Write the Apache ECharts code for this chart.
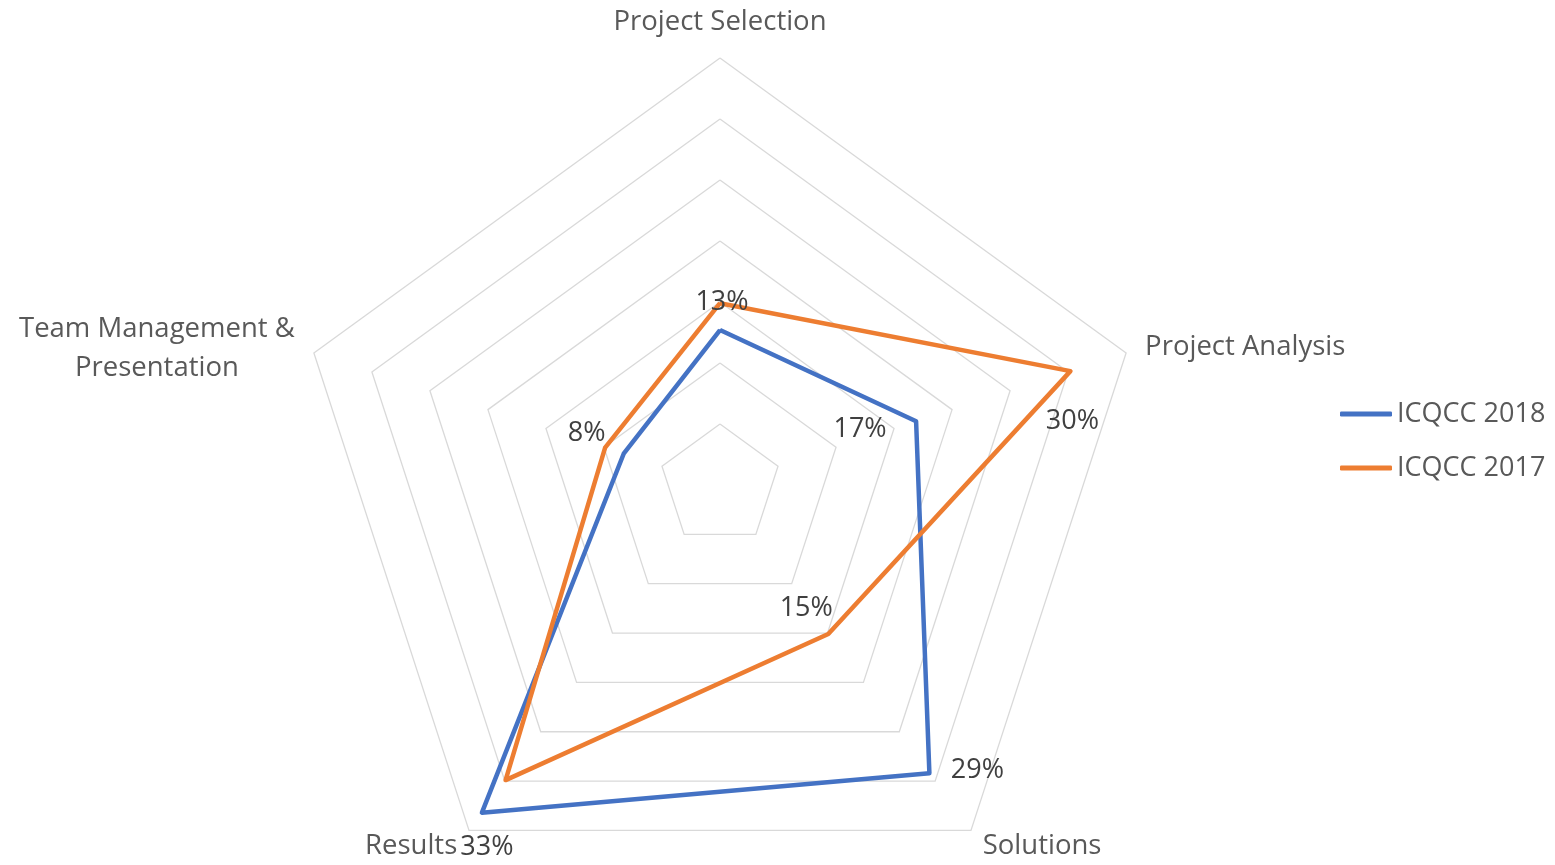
<!DOCTYPE html>
<html><head><meta charset="utf-8">
<script src="https://cdn.jsdelivr.net/npm/echarts@6/dist/echarts.min.js"></script>
<style>html,body{margin:0;padding:0;background:#fff}#c{width:1555px;height:865px}</style>
</head><body><div id="c"></div>
<script>
// ---- data (clockwise from top) ----
const indicators = ['Project Selection', 'Project Analysis', 'Solutions', 'Results', 'Team Management & Presentation'];
const seriesNames = ['ICQCC 2018', 'ICQCC 2017'];
const icqcc2018 = [12.7, 16.9, 29.2, 33.2, 8.3];
const icqcc2017 = [14.9, 30.2, 15.1, 29.9, 9.9];
const axisMax = 35;
const ringCount = 7;
const labelled2018 = [true, true, true, true, true];
const labelled2017 = [false, true, true, false, false];

// ---- styles ----
const FONT = '"Open Sans", "Noto Sans", sans-serif';
const CENTER = [720, 485];
const RADIUS = 427;
const colors = ['#4472C4', '#ED7D31'];
// label offsets (px) relative to the point, per series & indicator
const labelOffsets = [
  [[2, -28], [-56, 8], [48, -3], [5, 35], [-37, -20]],
  [[0, 0], [2, 50], [-22, -26], [0, 0], [0, 0]]
];
const labelled = [labelled2018, labelled2017];

// ECharts lays radar axes out counter-clockwise; reorder so the axes run clockwise
const order = [0].concat(indicators.map((_, i) => i).slice(1).reverse());
const reorder = arr => order.map(i => arr[i]);

const chart = echarts.init(document.getElementById('c'), null, {renderer: 'canvas'});

// natural (clockwise) indicator index of a point from its on-screen position
function dimIndexFromRect(r) {
  const x = r.x + r.width / 2 - CENTER[0];
  const y = r.y + r.height / 2 - CENTER[1];
  let a = Math.atan2(x, -y) * 180 / Math.PI;
  if (a < 0) a += 360;
  return Math.round(a / (360 / indicators.length)) % indicators.length;
}

const option = {
  backgroundColor: '#fff',
  color: colors,
  legend: {
    orient: 'vertical',
    left: 1340,
    top: 399,
    padding: 0,
    icon: 'roundRect',
    itemWidth: 52,
    itemHeight: 5,
    itemGap: 24,
    textStyle: {color: '#595959', fontSize: 27, fontFamily: FONT, lineHeight: 30},
    data: seriesNames
  },
  radar: {
    center: CENTER,
    radius: RADIUS,
    startAngle: 90,
    shape: 'polygon',
    splitNumber: ringCount,
    axisNameGap: 20,
    indicator: reorder(indicators).map(n => ({name: n, max: axisMax, min: 0})),
    axisName: {
      color: '#595959',
      fontSize: 27.5,
      fontFamily: FONT,
      formatter: function (name) {
        if (name === indicators[0]) return '{top|' + name + '}';
        if (name === indicators[4]) return '{c|Team Management &}\n{c|Presentation}';
        return name;
      },
      rich: {
        top: {fontSize: 27.5, fontFamily: FONT, color: '#595959', padding: [0, 0, 2, 0]},
        c: {fontSize: 27.5, fontFamily: FONT, color: '#595959', width: 276, align: 'center', lineHeight: 39, padding: [3, 0, 0, 0]}
      }
    },
    axisLine: {show: false},
    axisTick: {show: false},
    axisLabel: {show: false},
    splitArea: {show: false},
    splitLine: {lineStyle: {color: '#D9D9D9', width: 1.3}}
  },
  series: [{
    type: 'radar',
    symbol: 'circle',
    symbolSize: 2,
    animation: false,
    lineStyle: {width: 4.5, join: 'round'},
    label: {
      show: true,
      position: 'inside',
      color: '#404040',
      fontSize: 27,
      fontFamily: FONT,
      formatter: p => Math.round(p.value) + '%'
    },
    labelLayout: function (params) {
      const d = dimIndexFromRect(params.rect);
      const s = params.dataIndex;
      if (!labelled[s][d]) return {x: -2000, y: -2000};
      return {dx: labelOffsets[s][d][0], dy: labelOffsets[s][d][1]};
    },
    data: [
      {name: seriesNames[0], value: reorder(icqcc2018), itemStyle: {color: colors[0]}, lineStyle: {color: colors[0]}},
      {name: seriesNames[1], value: reorder(icqcc2017), itemStyle: {color: colors[1]}, lineStyle: {color: colors[1]}}
    ]
  }]
};
chart.setOption(option);
</script>
</body></html>
